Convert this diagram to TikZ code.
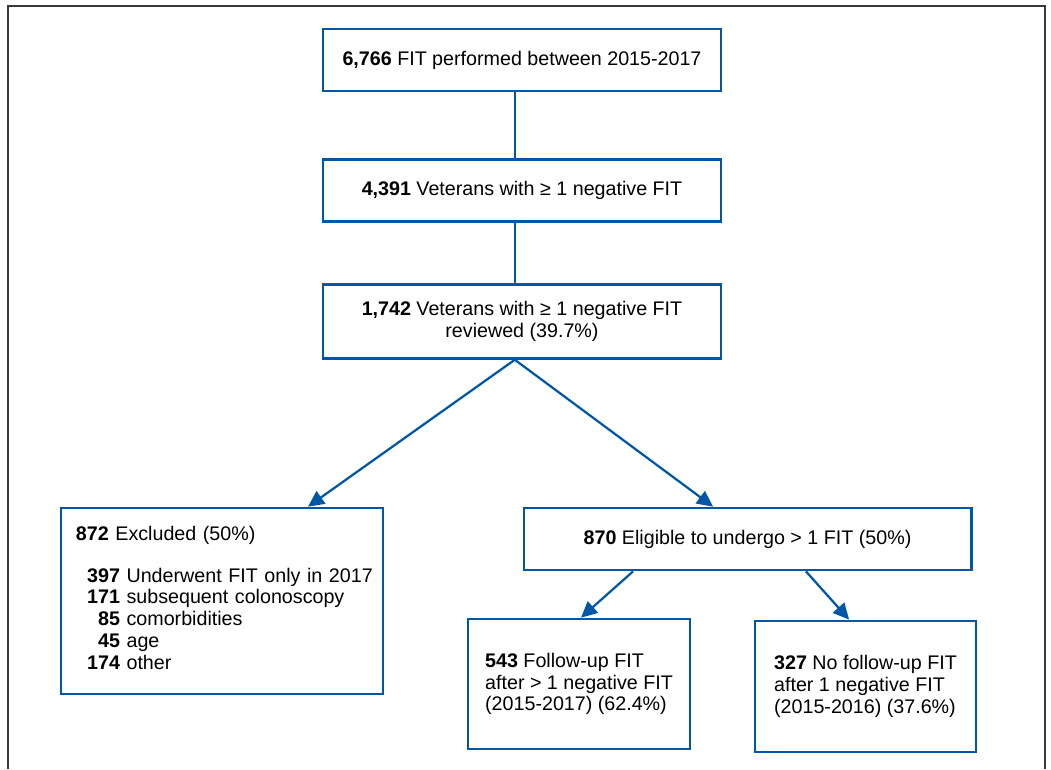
\documentclass[tikz,border=0pt]{standalone}
\usepackage{fontspec}
\setmainfont{Liberation Sans}
\usetikzlibrary{arrows.meta,positioning}
\definecolor{flowblue}{HTML}{0057A8}
\definecolor{framegray}{HTML}{3A3A3A}

\begin{document}
\begin{tikzpicture}[
    x=0.025cm,y=-0.025cm,
    cohort/.style={draw=flowblue,line width=1.9pt,fill=white,inner sep=0pt,
      align=center,font=\fontsize{14}{15.5}\selectfont},
    stem/.style={line width=1.6pt,draw=flowblue},
    flow/.style={-{Triangle[length=4mm,width=3.8mm]},line width=1.6pt,draw=flowblue},
    node distance=1.65cm
  ]
    \useasboundingbox (0,0) rectangle (1051,769);
    \draw[framegray,line width=1pt] (8,769) -- (8,6) -- (1045,6) -- (1045,769);

    \node[cohort,minimum width=9.95cm,minimum height=1.55cm] (fit) at (522,60)
      {\textbf{6,766} FIT performed between 2015-2017};
    \node[cohort,minimum width=9.95cm,minimum height=1.55cm,below=of fit] (neg)
      {\textbf{4,391} Veterans with ≥ 1 negative FIT};
    \node[cohort,minimum width=9.95cm,minimum height=1.85cm,below=1.5cm of neg] (rev)
      {\textbf{1,742} Veterans with ≥ 1 negative FIT\\reviewed (39.7\%)};

    \node[cohort,minimum width=8.05cm,minimum height=4.65cm,text width=7.3cm,align=left] (excl) at (222,601)
      {\textbf{872} Excluded (50\%)\\[14pt]
       \hspace*{0.28cm}\begin{tabular}[t]{@{}r@{\ }l@{}}
         \textbf{397} & Underwent FIT only in 2017\\
         \textbf{171} & subsequent colonoscopy\\
         \textbf{85} & comorbidities\\
         \textbf{45} & age\\
         \textbf{174} & other
       \end{tabular}};
    \node[cohort,minimum width=11.18cm,minimum height=1.55cm] (elig) at (747.5,539)
      {\textbf{870} Eligible to undergo > 1 FIT (50\%)};
    \node[cohort,minimum width=5.55cm,minimum height=3.25cm,align=left] (fup) at (579,684)
      {\textbf{543} Follow-up FIT\\after > 1 negative FIT\\(2015-2017) (62.4\%)};
    \node[cohort,minimum width=5.53cm,minimum height=3.28cm,align=left] (nofup) at (865.5,686.5)
      {\textbf{327} No follow-up FIT\\after 1 negative FIT\\(2015-2016) (37.6\%)};

    \draw[stem] ([xshift=-0.18cm]fit.south) -- ([xshift=-0.18cm]neg.north);
    \draw[stem] ([xshift=-0.18cm]neg.south) -- ([xshift=-0.18cm]rev.north);
    \draw[flow] ([xshift=-0.18cm]rev.south) -- ([xshift=2.15cm]excl.north);
    \draw[flow] ([xshift=-0.18cm]rev.south) -- ([xshift=-0.86cm]elig.north);
    \draw[flow] ([xshift=-2.86cm]elig.south) -- ([xshift=0.05cm]fup.north);
    \draw[flow] ([xshift=1.46cm]elig.south) -- ([xshift=-0.41cm]nofup.north);
  \end{tikzpicture}
\end{document}
